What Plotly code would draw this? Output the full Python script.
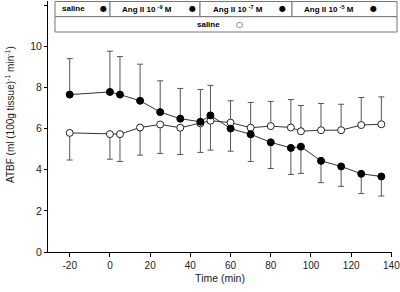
import plotly.graph_objects as go

# ---- data ----
time_min = [-20, 0, 5, 15, 25, 35, 45, 50, 60, 70, 80, 90, 95, 105, 115, 125, 135]
angii_mean = [7.65, 7.78, 7.65, 7.35, 6.80, 6.48, 6.33, 6.64, 6.00, 5.72, 5.33, 5.06, 5.12, 4.43, 4.16, 3.80, 3.67]
angii_sem = [1.75, 1.98, 1.85, 1.78, 1.52, 1.47, 1.57, 1.46, 1.10, 1.32, 1.27, 1.29, 1.30, 1.06, 0.97, 0.96, 0.95]
saline_mean = [5.79, 5.73, 5.73, 6.05, 6.20, 6.04, 6.25, 6.38, 6.29, 6.04, 6.12, 6.05, 5.87, 5.92, 5.92, 6.17, 6.21]
saline_sem = [1.32, 1.22, 1.33, 1.34, 1.41, 1.30, 1.41, 1.43, 1.06, 1.23, 1.20, 1.36, 1.25, 1.30, 1.26, 1.34, 1.33]

x_ticks = [-20, 0, 20, 40, 60, 80, 100, 120, 140]
y_ticks = [0, 2, 4, 6, 8, 10, 12]

row1_labels = ["saline", "Ang II 10 <sup>-9</sup> M", "Ang II 10 <sup>-7</sup> M", "Ang II 10 <sup>-5</sup> M"]
row2_label = "saline"

# error bars point away from the other group
ang_up = [s if a >= b else 0 for a, b, s in zip(angii_mean, saline_mean, angii_sem)]
ang_dn = [0 if a >= b else s for a, b, s in zip(angii_mean, saline_mean, angii_sem)]
sal_up = [0 if a >= b else s for a, b, s in zip(angii_mean, saline_mean, saline_sem)]
sal_dn = [s if a >= b else 0 for a, b, s in zip(angii_mean, saline_mean, saline_sem)]

FONT = "Liberation Sans, Arial, Helvetica, sans-serif"
W, H = 400, 292
L, R, T, B = 48, 8, 1, 40
PW, PH = W - L - R, H - T - B


def px(x):
    return (x - L) / PW


def py(y):
    return (H - B - y) / PH


fig = go.Figure()
err_style = dict(type="data", symmetric=False, color="#555555", thickness=1, width=3)

fig.add_trace(go.Scatter(
    x=time_min, y=saline_mean, mode="lines+markers", name="saline",
    line=dict(color="#333333", width=1),
    marker=dict(symbol="circle", size=7, color="white", line=dict(color="#222222", width=1)),
    error_y=dict(array=sal_up, arrayminus=sal_dn, **err_style),
))
fig.add_trace(go.Scatter(
    x=time_min, y=angii_mean, mode="lines+markers", name="Ang II",
    line=dict(color="#333333", width=1),
    marker=dict(symbol="circle", size=7, color="black", line=dict(color="black", width=1)),
    error_y=dict(array=ang_up, arrayminus=ang_dn, **err_style),
))

# ---- protocol boxes at top ----
shapes = []
box_line = dict(color="#777777", width=1)
edges = [55, 110, 200, 292, 397]
y_top, y_mid, y_bot = 1.5, 16.7, 32
for i in range(4):
    shapes.append(dict(type="rect", xref="paper", yref="paper",
                       x0=px(edges[i]), x1=px(edges[i + 1]), y0=py(y_mid), y1=py(y_top),
                       line=box_line, fillcolor="white", layer="above"))
shapes.append(dict(type="rect", xref="paper", yref="paper",
                   x0=px(edges[0]), x1=px(edges[-1]), y0=py(y_bot), y1=py(y_mid),
                   line=box_line, fillcolor="white", layer="above"))

annotations = []
lab_x = [73.5, 146.5, 237.5, 329]
dot_x = [103, 192, 282, 373]
for lx, dx, t in zip(lab_x, dot_x, row1_labels):
    annotations.append(dict(x=px(lx), y=py(8.8), xref="paper", yref="paper", text="<b>" + t + "</b>",
                            showarrow=False, font=dict(family=FONT, size=8, color="black"),
                            xanchor="center", yanchor="middle"))
    annotations.append(dict(x=px(dx), y=py(8.6), xref="paper", yref="paper", text="●",
                            showarrow=False, font=dict(family="DejaVu Sans", size=8, color="black"),
                            xanchor="center", yanchor="middle"))
annotations.append(dict(x=px(208.5), y=py(24.5), xref="paper", yref="paper", text="<b>" + row2_label + "</b>",
                        showarrow=False, font=dict(family=FONT, size=8, color="black"),
                        xanchor="center", yanchor="middle"))
annotations.append(dict(x=px(239), y=py(24.3), xref="paper", yref="paper", text="○",
                        showarrow=False, font=dict(family="DejaVu Sans", size=8, color="black"),
                        xanchor="center", yanchor="middle"))

# y title
annotations.append(dict(x=px(10), y=py(115), xref="paper", yref="paper",
                        text="ATBF (ml (100g tissue)<sup>-1</sup> min<sup>-1</sup>)",
                        textangle=-90, showarrow=False,
                        font=dict(family=FONT, size=10, color="#222222"),
                        xanchor="center", yanchor="middle"))

fig.update_layout(
    width=W, height=H,
    margin=dict(l=L, r=R, t=T, b=B, pad=0),
    paper_bgcolor="white", plot_bgcolor="white",
    showlegend=False,
    shapes=shapes, annotations=annotations,
    font=dict(family=FONT, size=10, color="black"),
)
fig.update_xaxes(
    range=[-30.8, 140.3], tickvals=x_ticks, ticktext=[str(v) for v in x_ticks],
    showline=True, linecolor="black", linewidth=1, showgrid=False, zeroline=False,
    ticks="outside", ticklen=4, tickcolor="black", tickwidth=1,
    ticklabeloverflow="allow",
    tickfont=dict(family=FONT, size=10, color="#222222"),
    title=dict(text="Time (min)", font=dict(family=FONT, size=10.5, color="#222222"), standoff=4),
)
fig.update_yaxes(
    range=[0, 12.2], tickvals=y_ticks,
    showline=True, linecolor="black", linewidth=1, showgrid=False, zeroline=False,
    ticks="outside", ticklen=3, tickcolor="black", tickwidth=1,
    tickfont=dict(family=FONT, size=10.5, color="#222222"),
)

# remove the default 8px page margin so the figure fills the window exactly
fig.write_html("out.html",
               config={"displayModeBar": False, "staticPlot": True},
               post_script="document.body.style.margin='0';document.body.style.overflow='hidden';")
